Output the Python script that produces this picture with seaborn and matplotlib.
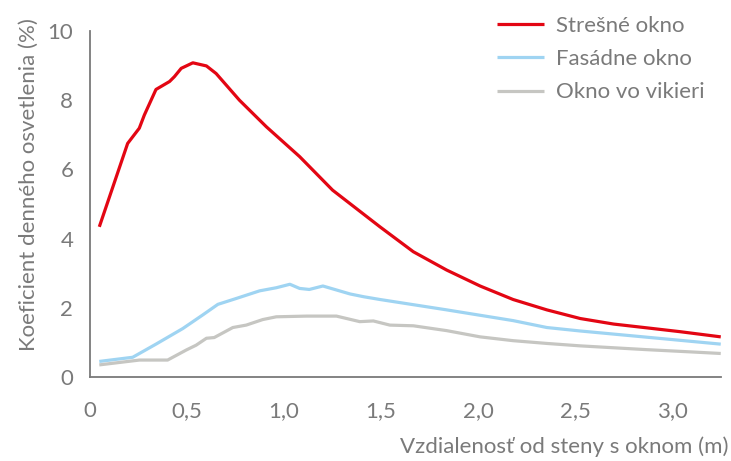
import matplotlib
matplotlib.use("Agg")
import matplotlib.pyplot as plt
import seaborn as sns
import pandas as pd
from matplotlib import font_manager

# --- data ---
series_names = ["Strešné okno", "Fasádne okno", "Okno vo vikieri"]

x_stresne = [0.048, 0.194, 0.254, 0.28, 0.34, 0.41, 0.435, 0.47, 0.53, 0.60, 0.65, 0.77,
             0.909, 1.08, 1.25, 1.494, 1.666, 1.838, 2.01, 2.18, 2.354, 2.526, 2.698, 2.87,
             3.04, 3.25]
y_stresne = [4.34, 6.75, 7.19, 7.57, 8.31, 8.54, 8.68, 8.92, 9.08, 8.99, 8.77, 8.0,
             7.23, 6.37, 5.40, 4.34, 3.62, 3.09, 2.63, 2.24, 1.94, 1.69, 1.53, 1.42,
             1.31, 1.16]

x_fasadne = [0.048, 0.22, 0.34, 0.478, 0.58, 0.659, 0.754, 0.874, 0.96, 1.03, 1.08, 1.13,
             1.20, 1.34, 1.41, 1.494, 1.838, 2.18, 2.354, 2.526, 2.87, 3.25]
y_fasadne = [0.45, 0.57, 0.95, 1.40, 1.79, 2.10, 2.27, 2.49, 2.58, 2.68, 2.56, 2.53,
             2.63, 2.40, 2.32, 2.24, 1.94, 1.63, 1.43, 1.33, 1.15, 0.95]

x_vikier = [0.048, 0.255, 0.40, 0.496, 0.547, 0.60, 0.64, 0.736, 0.805, 0.89, 0.96, 1.115,
            1.27, 1.39, 1.46, 1.545, 1.666, 1.838, 2.01, 2.18, 2.354, 2.526, 2.87, 3.08, 3.25]
y_vikier = [0.35, 0.49, 0.49, 0.78, 0.92, 1.12, 1.14, 1.43, 1.50, 1.66, 1.74, 1.76,
            1.76, 1.60, 1.62, 1.50, 1.48, 1.34, 1.16, 1.05, 0.97, 0.90, 0.79, 0.73, 0.68]

x_ticks = [0, 0.5, 1.0, 1.5, 2.0, 2.5, 3.0]
x_tick_labels = ["0", "0,5", "1,0", "1,5", "2,0", "2,5", "3,0"]
y_ticks = [0, 2, 4, 6, 8, 10]
y_tick_labels = ["0", "2", "4", "6", "8", "10"]

x_label = "Vzdialenosť od steny s oknom (m)"
y_label = "Koeficient denného osvetlenia (%)"

colors = ["#e30613", "#9fd4f2", "#c6c6c2"]
grey = "#7a7a7a"

df = pd.concat([
    pd.DataFrame({"x": x_stresne, "y": y_stresne, "s": series_names[0]}),
    pd.DataFrame({"x": x_fasadne, "y": y_fasadne, "s": series_names[1]}),
    pd.DataFrame({"x": x_vikier, "y": y_vikier, "s": series_names[2]}),
], ignore_index=True)

sns.set_style("white")
avail = {f.name for f in font_manager.fontManager.ttflist}
fam = "Lato" if "Lato" in avail else "DejaVu Sans"
plt.rcParams["font.family"] = [fam, "DejaVu Sans"]

fig = plt.figure(figsize=(7.31, 4.61), dpi=100)
ax = fig.add_axes([0.1231, 0.1822, 0.8629, 0.7506])

sns.lineplot(data=df, x="x", y="y", hue="s", hue_order=series_names,
             palette=colors, linewidth=2.3, ax=ax, sort=True, estimator=None)
for ln in ax.get_lines():
    ln.set_solid_joinstyle("round")
    ln.set_solid_capstyle("butt")

ax.set_xlim(0, 3.25)
ax.set_ylim(0, 10)
ax.set_xticks(x_ticks)
ax.set_xticklabels(x_tick_labels)
ax.set_yticks(y_ticks)
ax.set_yticklabels(y_tick_labels)

for side in ["top", "right"]:
    ax.spines[side].set_visible(False)
for side in ["left", "bottom"]:
    ax.spines[side].set_color(grey)
    ax.spines[side].set_linewidth(1.3)

ax.tick_params(axis="both", colors=grey, labelcolor=grey, labelsize=16,
               length=5, width=1.3, direction="out")
ax.tick_params(axis="x", pad=12)
ax.tick_params(axis="y", pad=7)
ax.set_xlabel("")
ax.set_ylabel("")

fig.text(0.996, 0.03, x_label, ha="right", va="center", color=grey, fontsize=16)
fig.text(0.04, 0.6, y_label, ha="center", va="center", rotation=90, color=grey, fontsize=16)

leg = ax.legend(loc="upper left", bbox_to_anchor=(0.668, 0.985), bbox_transform=fig.transFigure,
                frameon=False, fontsize=16, handlelength=2.1, handletextpad=0.55,
                labelspacing=0.6, borderaxespad=0)
for t in leg.get_texts():
    t.set_color(grey)
for h in leg.get_lines():
    h.set_linewidth(2.3)

fig.savefig("out.png", dpi=100)
